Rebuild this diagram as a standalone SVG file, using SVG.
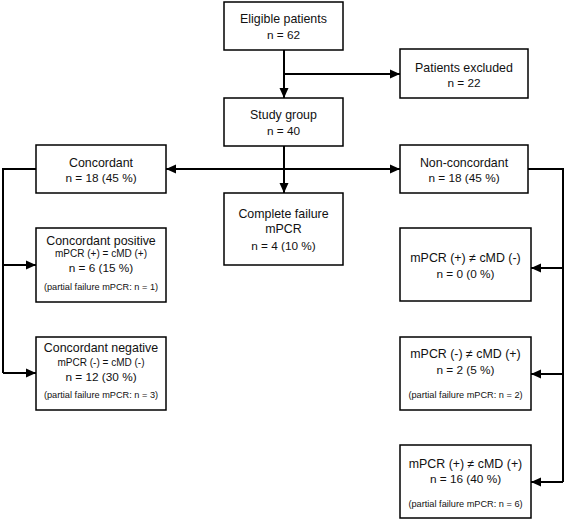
<svg xmlns="http://www.w3.org/2000/svg" width="567" height="521" viewBox="0 0 567 521">
<defs>
<marker id="ah" markerUnits="userSpaceOnUse" markerWidth="10" markerHeight="10" viewBox="0 0 10 10" refX="10" refY="5" orient="auto-start-reverse">
<path d="M0,0.5 L10,5 L0,9.5 Z" fill="#000"/>
</marker>
<style>
.box{fill:#fff;stroke:#000;stroke-width:1.5}
.t{font-family:"Liberation Sans",Arial,sans-serif;font-size:12.4px;fill:#111;text-anchor:middle}
.n{font-family:"Liberation Sans",Arial,sans-serif;font-size:11.8px;fill:#111;text-anchor:middle}
.s{font-family:"Liberation Sans",Arial,sans-serif;font-size:10px;fill:#111;text-anchor:middle}
.p{font-family:"Liberation Sans",Arial,sans-serif;font-size:9.2px;fill:#111;text-anchor:middle}
.c{fill:none;stroke:#000;stroke-width:2}
</style>
</defs>
<g id="connectors">
<path class="c" d="M284,50 V98" marker-end="url(#ah)"/>
<path class="c" d="M284,74 H400" marker-end="url(#ah)"/>
<path class="c" d="M284,146 V193" marker-end="url(#ah)"/>
<path class="c" d="M166,169 H400" marker-start="url(#ah)" marker-end="url(#ah)"/>
<path class="c" d="M36,169 H3 V373"/>
<path class="c" d="M3,265 H36" marker-end="url(#ah)"/>
<path class="c" d="M3,373 H36" marker-end="url(#ah)"/>
<path class="c" d="M528,169 H563 V482"/>
<path class="c" d="M563,268 H531" marker-end="url(#ah)"/>
<path class="c" d="M563,374 H531" marker-end="url(#ah)"/>
<path class="c" d="M563,482 H531" marker-end="url(#ah)"/>
</g>
<g id="eligible">
<rect class="box" x="224" y="2" width="119" height="48"/>
<text class="t" x="283.5" y="23">Eligible patients</text>
<text class="n" x="283.5" y="39">n = 62</text>
</g>
<g id="excluded">
<rect class="box" x="400" y="49" width="128" height="49"/>
<text class="t" x="464" y="72">Patients excluded</text>
<text class="n" x="464" y="87">n = 22</text>
</g>
<g id="study">
<rect class="box" x="224" y="98" width="119" height="48"/>
<text class="t" x="283.5" y="119">Study group</text>
<text class="n" x="283.5" y="135">n = 40</text>
</g>
<g id="concordant">
<rect class="box" x="36" y="145" width="130" height="48"/>
<text class="t" x="101" y="167">Concordant</text>
<text class="n" x="101" y="182">n = 18 (45 %)</text>
</g>
<g id="nonconcordant">
<rect class="box" x="400" y="145" width="128" height="48"/>
<text class="t" x="464" y="167">Non-concordant</text>
<text class="n" x="464" y="182">n = 18 (45 %)</text>
</g>
<g id="failure">
<rect class="box" x="224" y="193" width="119" height="72"/>
<text class="t" x="283.5" y="218">Complete failure</text>
<text class="t" x="283.5" y="233">mPCR</text>
<text class="n" x="283.5" y="250">n = 4 (10 %)</text>
</g>
<g id="concpos">
<rect class="box" x="36" y="228" width="130" height="74"/>
<text class="t" x="101" y="245">Concordant positive</text>
<text class="s" x="101" y="257">mPCR (+) = cMD (+)</text>
<text class="n" x="101" y="272">n = 6 (15 %)</text>
<text class="p" x="101" y="290">(partial failure mPCR: n = 1)</text>
</g>
<g id="concneg">
<rect class="box" x="36" y="337" width="130" height="73"/>
<text class="t" x="101" y="352">Concordant negative</text>
<text class="s" x="101" y="366">mPCR (-) = cMD (-)</text>
<text class="n" x="101" y="381">n = 12 (30 %)</text>
<text class="p" x="101" y="398">(partial failure mPCR: n = 3)</text>
</g>
<g id="nc1">
<rect class="box" x="400" y="228" width="131" height="73"/>
<text class="t" x="465.5" y="262">mPCR (+) ≠ cMD (-)</text>
<text class="n" x="465.5" y="278">n = 0 (0 %)</text>
</g>
<g id="nc2">
<rect class="box" x="400" y="337" width="131" height="73"/>
<text class="t" x="465.5" y="358">mPCR (-) ≠ cMD (+)</text>
<text class="n" x="465.5" y="374">n = 2 (5 %)</text>
<text class="p" x="465.5" y="398">(partial failure mPCR: n = 2)</text>
</g>
<g id="nc3">
<rect class="box" x="400" y="445" width="131" height="73"/>
<text class="t" x="465.5" y="468">mPCR (+) ≠ cMD (+)</text>
<text class="n" x="465.5" y="483">n = 16 (40 %)</text>
<text class="p" x="465.5" y="507">(partial failure mPCR: n = 6)</text>
</g>
</svg>
